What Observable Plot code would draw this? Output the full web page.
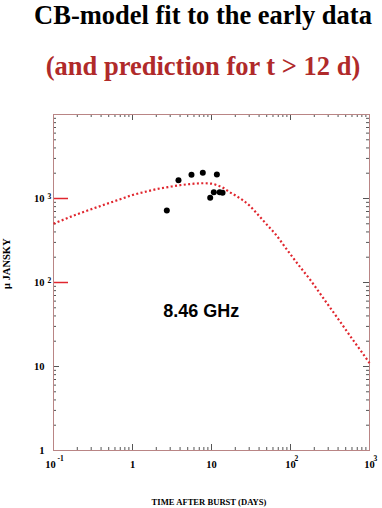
<!DOCTYPE html>
<html><head><meta charset="utf-8">
<script src="https://cdn.jsdelivr.net/npm/d3@7"></script>
<script src="https://cdn.jsdelivr.net/npm/@observablehq/plot@0.6"></script>
<style>
body{margin:0;background:#fff;}
#wrap{position:relative;width:382px;height:508px;overflow:hidden;}
#head{position:relative;height:90px;}
.t{position:absolute;left:203px;transform:translateX(-50%);white-space:nowrap;font-family:"Liberation Serif",serif;font-weight:bold;font-size:26.5px;line-height:normal;}
#chart svg{display:block;}
</style></head><body>
<div id="wrap">
<div id="head">
<div class="t" style="top:0px;color:#000">CB-model fit to the early data</div>
<div class="t" style="top:51px;color:#b02a2a">(and prediction for t &gt; 12 d)</div>
</div>
<div id="chart"></div>
</div>
<script>
// Observed data (days, microJansky)
const pointT = [2.72, 3.82, 5.58, 7.76, 11.7, 10.7, 9.63, 12.7, 13.8];
const pointF = [720, 1650, 1915, 2020, 1930, 1190, 1020, 1190, 1170];

// CB-model curve
const curveT = [0.1, 0.2, 0.3, 0.5, 0.7, 1, 1.5, 2, 3, 4, 6, 8, 10, 12, 14, 17, 21, 25, 30, 40, 50, 65, 92, 133, 180, 211, 300, 400, 600, 800, 1000];
const curveF = [500, 650, 745, 880, 980, 1100, 1210, 1290, 1380, 1440, 1500, 1520, 1500, 1430, 1340, 1190, 1060, 950, 830, 620, 490, 373, 240, 152, 106, 86, 54, 37, 21.5, 14.8, 11];

// Axis ticks
const xTickVals = [0.1, 1, 10, 100, 1000];
const xTickBase = ["10", "1", "10", "10", "10"];
const xTickExp = ["-1", "", "", "2", "3"];
const xMajorInner = [1, 10, 100];
const xMinor = [0.2,0.3,0.4,0.5,0.6,0.7,0.8,0.9,2,3,4,5,6,7,8,9,20,30,40,50,60,70,80,90,200,300,400,500,600,700,800,900];
const yTickVals = [1, 10, 100, 1000];
const yTickBase = ["1", "10", "10", "10"];
const yTickExp = ["", "", "2", "3"];
const yMajorGrey = [10, 100, 1000];
const yMajorRed = [100, 1000];
const yMinor = [2,3,4,5,6,7,8,9,20,30,40,50,60,70,80,90,200,300,400,500,600,700,800,900,2000,3000,4000,5000,6000,7000,8000,9000];

const xLabel = "TIME AFTER BURST (DAYS)";
const yLabel = "\u03BC JANSKY";
const bandLabel = "8.46 GHz";

const points = pointT.map((t, i) => ({t, f: pointF[i]}));
const curve = curveT.map((t, i) => ({t, f: curveF[i]}));

const serif = "Liberation Serif, Times New Roman, serif";
const tickGrey = "#555";
const curveRed = "#e0262e";

const chart = Plot.plot({
  width: 382, height: 418,
  marginTop: 24, marginBottom: 58, marginLeft: 53, marginRight: 13,
  x: {type: "log", domain: [0.1, 1000], axis: null},
  y: {type: "log", domain: [1, 10000], axis: null},
  style: {background: "white", overflow: "visible"},
  marks: [
    // ticks (inward)
    Plot.ruleX(xMinor, {stroke: tickGrey, insetTop: 333}),
    Plot.ruleX(xMajorInner, {stroke: tickGrey, insetTop: 330}),
    Plot.ruleX(xMinor, {stroke: tickGrey, insetBottom: 333}),
    Plot.ruleX(xMajorInner, {stroke: tickGrey, insetBottom: 330}),
    Plot.ruleY(yMinor, {stroke: tickGrey, insetRight: 313}),
    Plot.ruleY(yMajorGrey, {stroke: tickGrey, insetRight: 310}),
    Plot.ruleY(yMajorRed, {stroke: curveRed, strokeWidth: 1.5, insetRight: 301}),
    Plot.ruleY(yMinor, {stroke: tickGrey, insetLeft: 313}),
    Plot.ruleY(yMajorGrey, {stroke: tickGrey, insetLeft: 310}),
    Plot.frame({stroke: "#b98585"}),
    // tick labels x
    Plot.text(xTickVals, {filter: (d, i) => i > 0, x: d => d, text: (d, i) => xTickBase[i], frameAnchor: "bottom", lineAnchor: "bottom", dy: 17, fontSize: 10.5, fontWeight: "bold", fontFamily: serif, fill: "black"}),
    Plot.text(xTickVals, {filter: (d, i) => i === 0, x: d => d, text: (d, i) => xTickBase[i], frameAnchor: "bottom", lineAnchor: "bottom", dy: 17, dx: -3, fontSize: 10.5, fontWeight: "bold", fontFamily: serif, fill: "black"}),
    Plot.text(xTickVals, {x: d => d, text: (d, i) => xTickExp[i], frameAnchor: "bottom", lineAnchor: "bottom", textAnchor: "start", dy: 10, dx: 4, fontSize: 7.5, fontWeight: "bold", fontFamily: serif, fill: "black"}),
    // tick labels y
    Plot.text(yTickVals, {y: d => d, text: (d, i) => yTickBase[i], frameAnchor: "left", textAnchor: "end", lineAnchor: "middle", dx: -9, fontSize: 10.5, fontWeight: "bold", fontFamily: serif, fill: "black"}),
    Plot.text(yTickVals, {y: d => d, text: (d, i) => yTickExp[i], frameAnchor: "left", textAnchor: "start", lineAnchor: "bottom", dx: -6, dy: 0, fontSize: 7.5, fontWeight: "bold", fontFamily: serif, fill: "black"}),
    // axis titles
    Plot.text([xLabel], {frameAnchor: "bottom", lineAnchor: "bottom", dy: 54, dx: -2.5, fontSize: 8.6, fontWeight: "bold", fontFamily: serif, fill: "black"}),
    Plot.text([yLabel], {frameAnchor: "left", lineAnchor: "bottom", rotate: -90, dx: -44, dy: 6.5, fontSize: 10.5, fontWeight: "bold", fontFamily: serif, fill: "black"}),
    // model curve (dotted)
    Plot.line(curve, {x: "t", y: "f", stroke: curveRed, strokeWidth: 2.2, strokeLinecap: "butt", strokeDasharray: "2,2.4", curve: "monotone-x"}),
    // data points
    Plot.dot(points, {x: "t", y: "f", r: 3, fill: "black", stroke: "none"}),
    // band label
    Plot.text([bandLabel], {x: 2.45, y: 46, textAnchor: "start", lineAnchor: "middle", fontSize: 18, fontWeight: "bold", fontFamily: "Liberation Sans, Arial, sans-serif", fill: "black"})
  ]
});
document.getElementById("chart").appendChild(chart);
</script>
</body></html>
